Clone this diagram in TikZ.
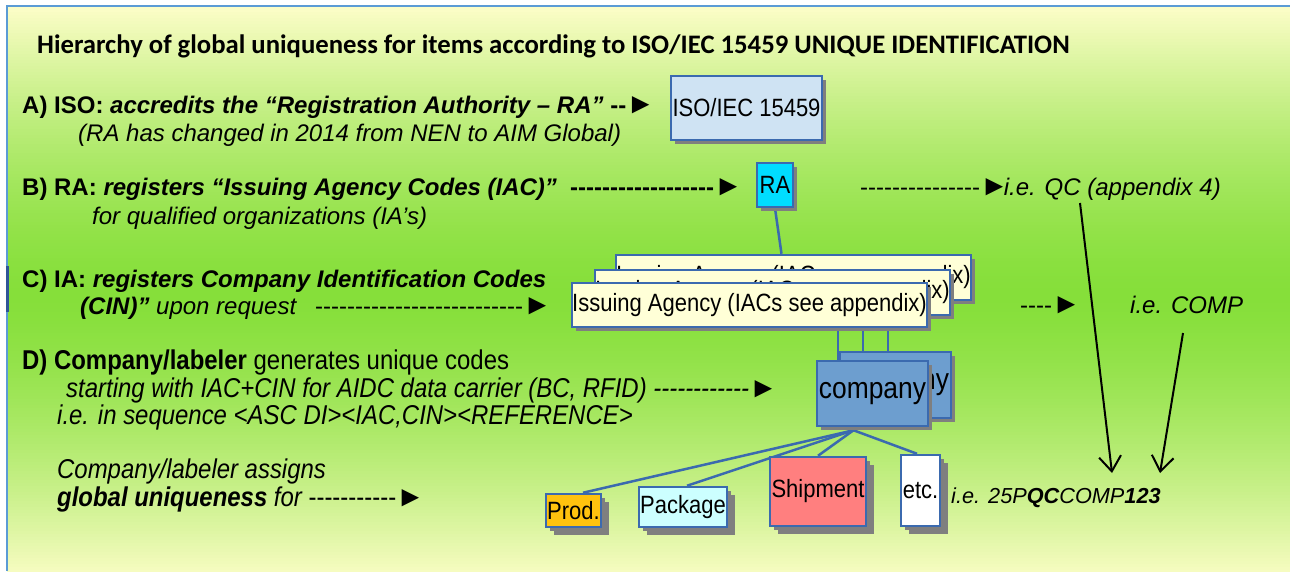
\documentclass[tikz,border=0pt]{standalone}
\usepackage{fontspec}
\setmainfont{Liberation Sans}[Ligatures=TeXOff]
\newfontfamily\titlefont{Carlito}[Ligatures=TeXOff]
\newfontfamily\narrowf{Liberation Sans}[Ligatures=TeXOff,FakeStretch=0.88]
\newfontfamily\trifont{Liberation Sans}
\usetikzlibrary{shadows,arrows.meta,calc}
\pgfdeclarelayer{back}
\pgfdeclarelayer{lines}
\pgfsetlayers{back,lines,main}
\definecolor{ylw}{RGB}{251,253,198}
\definecolor{grn}{RGB}{134,223,58}
\definecolor{pnl}{RGB}{91,155,213}
\definecolor{pnldark}{RGB}{47,85,151}
\definecolor{bdr}{RGB}{59,106,175}
\definecolor{isofill}{RGB}{207,227,243}
\definecolor{rafill}{RGB}{0,221,255}
\definecolor{iafill}{RGB}{255,255,215}
\definecolor{compfill}{RGB}{109,158,207}
\definecolor{prodfill}{RGB}{255,194,14}
\definecolor{packfill}{RGB}{204,255,255}
\definecolor{shipfill}{RGB}{255,127,127}
\definecolor{shad}{RGB}{127,127,127}
\newcommand\setfs[1]{\fontsize{#1}{#1}\selectfont}
\newcommand\tri{{\trifont\upshape\mdseries\setfs{29}►}}
\newcommand\dashes[1]{\foreach\dd in {1,...,#1}{-}}
\begin{document}
\begin{tikzpicture}[x=1pt,y=-1pt,
  txt/.style={anchor=base west, inner sep=0pt, font=\setfs{24}},
  ntxt/.style={anchor=base west, inner sep=0pt, font=\narrowf\setfs{27.2}},
  box/.style={draw=bdr, line width=2.5pt, inner sep=0pt, font=\narrowf\setfs{25},
    drop shadow={shadow xshift=4pt, shadow yshift=-4pt, fill=shad, opacity=1}},
  sbox/.style={box, drop shadow={shadow xshift=8pt, shadow yshift=-8pt, fill=shad, opacity=1}},
  conn/.style={draw=bdr, line width=2.5pt},
  bigarrow/.style={draw=black, line width=2pt, -{Straight Barb[length=15pt,width=22pt]}}]
\useasboundingbox (0,0) rectangle (1290,571);
\begin{pgfonlayer}{back}
\fill[white] (0,0) rectangle (1290,571);
\foreach \i in {0,...,188} {
  \pgfmathsetmacro\yy{6+3*\i}
  \pgfmathsetmacro\tt{min(1,abs(\yy+1.5-295)/285)}
  \pgfmathsetmacro\pp{max(0,100*(1-\tt^1.5))}
  \fill[grn!\pp!ylw] (7,\yy) rectangle (1290,\yy+3.3);
}
\draw[pnl, line width=1.5pt] (7,571) -- (7,6) -- (1290,6);
\draw[pnldark, line width=3pt] (7,266) -- (7,312);
\end{pgfonlayer}

% title
\node[anchor=base west, inner sep=0pt, font=\titlefont\bfseries\setfs{26.7}] (title) at (37,53)
  {Hierarchy of global uniqueness for items according to ISO/IEC 15459 UNIQUE IDENTIFICATION};

% A
\node[txt] (la) at (22,113) {\bfseries A) ISO: {\itshape accredits the “Registration Authority – RA”} --\tri};
\node[txt] (la2) at (78,141) {\itshape (RA has changed in 2014 from NEN to AIM Global)};
% B
\node[txt] (lb) at (22,195) {\bfseries B) RA: {\itshape registers “Issuing Agency Codes (IAC)”}};
\node[txt] (lbd) at (570,195) {\bfseries\dashes{18}\tri};
\node[txt] (lb2) at (92,224) {\itshape for qualified organizations (IA’s)};
\node[txt] (lbr) at (860,195) {\dashes{15}\tri\kern-5pt\itshape i.e. QC (appendix 4)};
% C
\node[txt] (lc) at (22,287) {\bfseries C) IA: {\itshape registers Company Identification Codes}};
\node[txt] (lc2) at (80,314) {{\bfseries\itshape (CIN)”} {\itshape upon request}};
\node[txt] (lcd) at (315,314) {\dashes{26}\tri};
\node[txt] (lcr) at (1020,313) {\dashes{4}\tri};
\node[txt] (lcomp) at (1130,313) {\itshape i.e. COMP};
% D
\node[ntxt] (ld) at (22,369) {{\bfseries D) Company/labeler} generates unique codes};
\node[ntxt] (ld2) at (66,397) {\itshape starting with IAC+CIN for AIDC data carrier (BC, RFID) \dashes{12}\tri};
\node[ntxt] (ld3) at (57,424) {\itshape i.e. in sequence <ASC DI><IAC,CIN><REFERENCE>};
\node[ntxt] (le) at (57,478) {\itshape Company/labeler assigns};
\node[ntxt] (le2) at (57,506) {{\bfseries\itshape global uniqueness} {\itshape for} \dashes{11}\tri};
\node[txt, font=\setfs{21.7}] (code) at (951,503) {\itshape i.e. 25P{\bfseries QC}COMP{\bfseries 123}};

% boxes
\node[box, fill=isofill, minimum width=151pt, minimum height=64pt] (iso) at (746.5,108) {ISO/IEC 15459};
\node[box, fill=rafill, minimum width=36pt, minimum height=44pt] (ra) at (775,185) {RA};
\node[box, fill=iafill, minimum width=353pt, minimum height=45pt] (iaback) at (793.5,277.5) {Issuing Agency (IACs see appendix)};
\node[box, fill=iafill, minimum width=355pt, minimum height=45pt] (iamid) at (772.5,292.5) {Issuing Agency (IACs see appendix)};
\node[box, fill=iafill, minimum width=355pt, minimum height=44pt] (iafront) at (749.5,305) {Issuing Agency (IACs see appendix)};
\node[box, fill=compfill, minimum width=111pt, minimum height=66pt, font=\narrowf\setfs{30}] (compback) at (895.5,385) {company};
\node[box, fill=compfill, minimum width=111pt, minimum height=65pt, font=\narrowf\setfs{30}] (compfront) at (872.5,393.5) {company};
\node[sbox, fill=prodfill, minimum width=55pt, minimum height=33pt] (prod) at (573.5,510.5) {Prod.};
\node[sbox, fill=packfill, minimum width=88pt, minimum height=40pt] (pack) at (683,507) {Package};
\node[sbox, fill=shipfill, minimum width=96pt, minimum height=69pt] (ship) at (818,491.5) {Shipment};
\node[sbox, fill=white, minimum width=39pt, minimum height=71pt] (etc) at (920.5,490.5) {etc.};

% connectors
\coordinate (apex) at ([xshift=-19pt,yshift=-3pt]compfront.south);
\begin{pgfonlayer}{lines}
\draw[conn] (ra.south) -- ([xshift=-12pt]iaback.north);
\draw[conn] ([xshift=-34.5pt]compfront.north) -- ([xshift=-34.5pt]compfront.north |- iafront.south);
\draw[conn] ([xshift=-32.5pt]compback.north) -- ([xshift=-32.5pt]compback.north |- iafront.south);
\draw[conn] ([xshift=-7.5pt]compback.north) -- ([xshift=-7.5pt]compback.north |- iafront.south);
\draw[conn] (apex) -- ([xshift=9.5pt]prod.north);
\draw[conn] (apex) -- ([xshift=4pt]pack.north);
\draw[conn] (apex) -- (ship.north);
\draw[conn] (apex) -- ([xshift=-3.5pt]etc.north);
\end{pgfonlayer}

\coordinate (qcs) at (1080,203);
\coordinate (qce) at (1112,473);
\coordinate (cps) at (1183,333);
\coordinate (cpe) at (1160,473);
\draw[bigarrow] (qcs) -- (qce);
\draw[bigarrow] (cps) -- (cpe);
\end{tikzpicture}
\end{document}
